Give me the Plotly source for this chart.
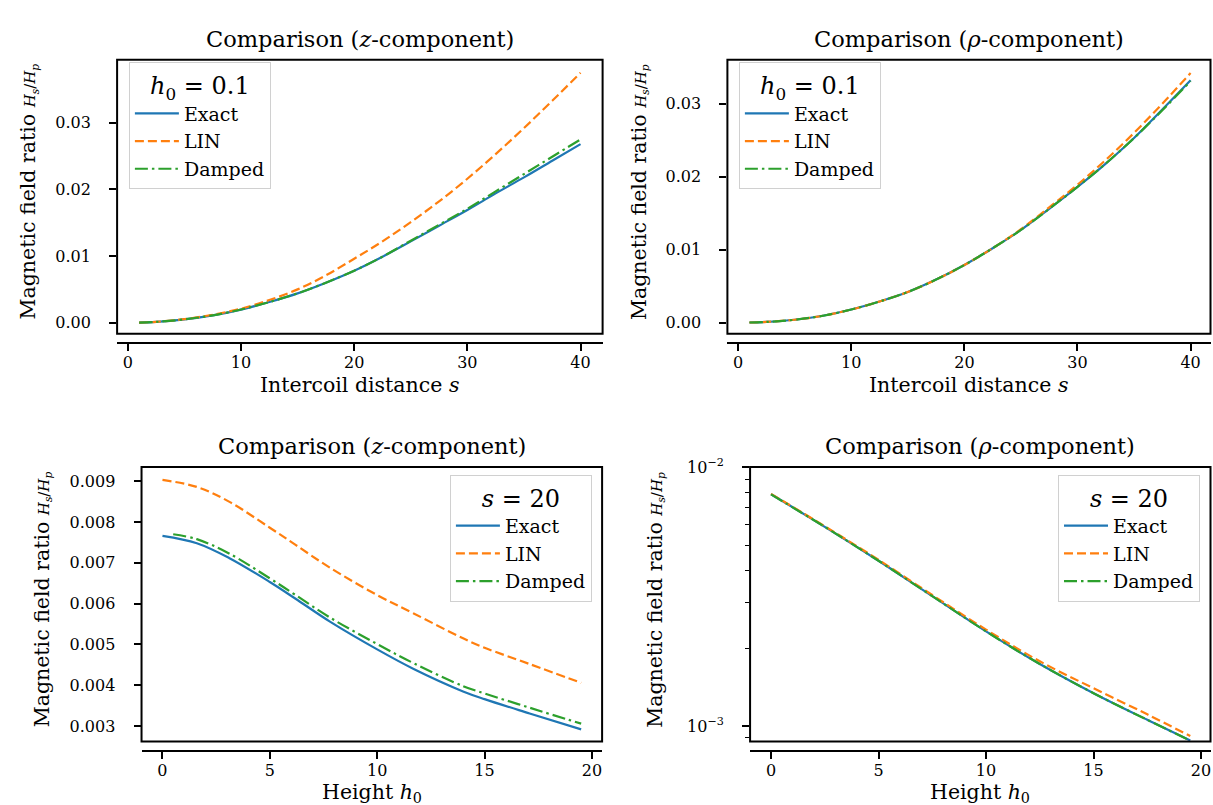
import plotly.graph_objects as go

# ---------------- data ----------------
# Top row: intercoil distance s, h0 = 0.1
s_vals = [1, 2.5, 5, 7.5, 10, 12.5, 15, 17.5, 20, 22.5, 25, 27.5, 30, 32.5, 35, 37.5, 40]

z_exact = [0.00002, 0.00012, 0.0005, 0.0011, 0.00197, 0.0031, 0.0044, 0.0060, 0.0078,
           0.0099, 0.0122, 0.01455, 0.0169, 0.0194, 0.0218, 0.0243, 0.0268]
z_lin = [0.00002, 0.00013, 0.00053, 0.0012, 0.0021, 0.0034, 0.0050, 0.0071, 0.0096,
         0.0122, 0.0151, 0.0182, 0.0216, 0.0253, 0.0292, 0.0333, 0.0375]
z_damped = [0.00002, 0.00012, 0.0005, 0.0011, 0.00198, 0.0031, 0.0044, 0.0060, 0.0078,
            0.0099, 0.0123, 0.0147, 0.0171, 0.0197, 0.0223, 0.0249, 0.0275]

rho_exact = [0.00002, 0.0001, 0.0004, 0.00095, 0.0018, 0.0029, 0.0042, 0.0059, 0.0079,
             0.0102, 0.0127, 0.0156, 0.0186, 0.0218, 0.0253, 0.0292, 0.0332]
rho_lin = [0.00002, 0.0001, 0.0004, 0.00095, 0.0018, 0.0029, 0.0042, 0.0059, 0.0079,
           0.0102, 0.0128, 0.0158, 0.0189, 0.0223, 0.0260, 0.0300, 0.0342]
rho_damped = [0.00002, 0.0001, 0.0004, 0.00095, 0.0018, 0.0029, 0.0042, 0.0059, 0.0079,
              0.0102, 0.0127, 0.0156, 0.0186, 0.0218, 0.0253, 0.0291, 0.0331]

# Bottom row: height h0, s = 20
h_vals = [0, 1.6, 3.1, 5, 6.2, 7.8, 10, 11.7, 14, 15, 17.1, 19.5]
h_vals_damped = [0.5, 1.6, 3.1, 5, 6.2, 7.8, 10, 11.7, 14, 15, 17.1, 19.5]

hz_exact = [0.00766, 0.00748, 0.00712, 0.00653, 0.00612, 0.00556, 0.00488, 0.00440,
            0.00385, 0.00366, 0.00331, 0.00292]
hz_lin = [0.00903, 0.00886, 0.00850, 0.00786, 0.00744, 0.00688, 0.00621, 0.00576,
          0.00515, 0.00492, 0.00452, 0.00406]
hz_damped = [0.00770, 0.00758, 0.00723, 0.00662, 0.00621, 0.00566, 0.00501, 0.00454,
             0.00398, 0.00380, 0.00345, 0.00306]

h_log = [0, 2.5, 5, 7.5, 10, 12.5, 15, 17.5, 19.5]
hr_exact = [0.00787, 0.00589, 0.004355, 0.003177, 0.002323, 0.001738, 0.00134, 0.001057, 0.000879]
hr_lin = [0.00790, 0.00592, 0.00439, 0.00321, 0.00236, 0.00178, 0.00140, 0.00111, 0.000915]
hr_damped = [0.00786, 0.00589, 0.004355, 0.003177, 0.002323, 0.001738, 0.00134, 0.001057, 0.000879]

names = ["Exact", "LIN", "Damped"]
colors = ["#1f77b4", "#ff7f0e", "#2ca02c"]
dashes = ["solid", "9px,4px", "13px,4px,2.5px,4px"]

FONT = "DejaVu Serif"
W, H = 1213, 805

fig = go.Figure()

panels = [
    dict(ys=[z_exact, z_lin, z_damped], xs=[s_vals, s_vals, s_vals], ax="", legend="legend"),
    dict(ys=[rho_exact, rho_lin, rho_damped], xs=[s_vals, s_vals, s_vals], ax="2", legend="legend2"),
    dict(ys=[hz_exact, hz_lin, hz_damped], xs=[h_vals, h_vals, h_vals_damped], ax="3", legend="legend3"),
    dict(ys=[hr_exact, hr_lin, hr_damped], xs=[h_log, h_log, h_log], ax="4", legend="legend4"),
]

for p in panels:
    for i in range(3):
        fig.add_trace(go.Scatter(
            x=p["xs"][i], y=p["ys"][i], mode="lines", name=names[i],
            line=dict(color=colors[i], width=2.2, dash=dashes[i], shape="spline", smoothing=1.0),
            xaxis="x" + p["ax"], yaxis="y" + p["ax"], legend=p["legend"],
        ))

def px_x(v):
    return v / W

def px_y(v):
    return 1 - v / H

top_dom = [px_y(327.3), px_y(49.5)]
bot_dom = [px_y(740.7), px_y(462.3)]

tickfont = dict(family=FONT, size=16, color="black")
common_x = dict(showgrid=False, zeroline=False, showline=True, linecolor="black", linewidth=1.5,
                ticks="outside", ticklen=7, tickwidth=1.5, tickcolor="black", tickfont=tickfont,
                anchor="free", ticklabelstandoff=-2)
common_y = dict(showgrid=False, zeroline=False, showline=False,
                ticks="outside", ticklen=7, tickwidth=1.5, tickcolor="black", tickfont=tickfont,
                ticklabelstandoff=15)

fig.update_layout(
    xaxis=dict(domain=[px_x(117.2), px_x(603.1)], range=[-0.95, 41.95], tickvals=[0, 10, 20, 30, 40],
               position=px_y(336.7), **common_x),
    yaxis=dict(domain=top_dom, range=[-0.00167, 0.03944], tickvals=[0, 0.01, 0.02, 0.03],
               tickformat=".2f", anchor="x", **common_y),
    xaxis2=dict(domain=[px_x(728.0), px_x(1211.5)], range=[-0.95, 41.76], tickvals=[0, 10, 20, 30, 40],
                position=px_y(336.7), **common_x),
    yaxis2=dict(domain=top_dom, range=[-0.00153, 0.03601], tickvals=[0, 0.01, 0.02, 0.03],
                tickformat=".2f", anchor="x2", **common_y),
    xaxis3=dict(domain=[px_x(141.65), px_x(602.6)], range=[-0.975, 20.475], tickvals=[0, 5, 10, 15, 20],
                position=px_y(750), **common_x),
    yaxis3=dict(domain=bot_dom, range=[0.002621, 0.009348],
                tickvals=[0.003, 0.004, 0.005, 0.006, 0.007, 0.008, 0.009],
                tickformat=".3f", anchor="x3", **common_y),
    xaxis4=dict(domain=[px_x(750.7), px_x(1211.5)], range=[-0.975, 20.44], tickvals=[0, 5, 10, 15, 20],
                position=px_y(750), **common_x),
    yaxis4=dict(domain=bot_dom, type="log", range=[-3.0599, -1.9985],
                tickvals=[0.001, 0.01], ticktext=["10<sup>−3</sup>", "10<sup>−2</sup>"],
                minor=dict(tickvals=[0.0009, 0.002, 0.003, 0.004, 0.005, 0.006, 0.007, 0.008, 0.009],
                           ticks="outside", ticklen=4, tickwidth=1, tickcolor="black", showgrid=False),
                anchor="x4", **common_y),
)

legend_common = dict(
    bgcolor="rgba(255,255,255,0.8)", bordercolor="#d0d0d0", borderwidth=1,
    font=dict(family=FONT, size=19, color="black"),
    xref="paper", yref="paper", yanchor="top",
    tracegroupgap=0, itemwidth=44,
)
ltitle_font = dict(family=FONT, size=24, color="black")
title_h = "<i>h</i><sub>0</sub> = 0.1"
fig.update_layout(
    legend=dict(x=px_x(129), y=px_y(52), xanchor="left",
                title=dict(text=title_h, side="top center", font=ltitle_font),
                **legend_common),
    legend2=dict(x=px_x(739.5), y=px_y(52), xanchor="left",
                 title=dict(text=title_h, side="top center", font=ltitle_font),
                 **legend_common),
    legend3=dict(x=px_x(592.4), y=px_y(470), xanchor="right",
                 title=dict(text="<i>s</i> = 20", side="top center", font=ltitle_font),
                 **legend_common),
    legend4=dict(x=px_x(1201), y=px_y(470), xanchor="right",
                 title=dict(text="<i>s</i> = 20", side="top center", font=ltitle_font),
                 **legend_common),
)

# frames around the plotting areas
for ax in ["", "2", "3", "4"]:
    fig.add_shape(type="rect", xref="x" + ax + " domain", yref="y" + ax + " domain",
                  x0=0, x1=1, y0=0, y1=1, line=dict(color="black", width=2), layer="above")

annots = []
titlefont = dict(family=FONT, size=22.5, color="black")
labfont = dict(family=FONT, size=20.5, color="black")
# subplot titles
for cx, ytop, txt in [
    ((117.2 + 603.1) / 2, 49.5, "Comparison (<i>z</i>-component)"),
    ((728.0 + 1211.5) / 2, 49.5, "Comparison (<i>ρ</i>-component)"),
    ((141.65 + 602.6) / 2, 462.3, "Comparison (<i>z</i>-component)"),
    ((750.7 + 1211.5) / 2, 462.3, "Comparison (<i>ρ</i>-component)"),
]:
    annots.append(dict(text=txt, x=px_x(cx), y=px_y(ytop), xref="paper", yref="paper",
                       xanchor="center", yanchor="bottom", yshift=6, showarrow=False, font=titlefont))
# x axis titles
for cx, cy, txt in [
    ((117.2 + 603.1) / 2, 379, "Intercoil distance <i>s</i>"),
    ((728.0 + 1211.5) / 2, 379, "Intercoil distance <i>s</i>"),
    ((141.65 + 602.6) / 2, 793, "Height <i>h</i><sub>0</sub>"),
    ((750.7 + 1211.5) / 2, 793, "Height <i>h</i><sub>0</sub>"),
]:
    annots.append(dict(text=txt, x=px_x(cx), y=px_y(cy), xref="paper", yref="paper",
                       xanchor="center", yanchor="middle", showarrow=False, font=labfont))
# y axis titles
ytxt = ("Magnetic field ratio <span style='font-size:15px'>"
        "<i>H<sub>s</sub></i>/<i>H<sub>p</sub></i></span>")
for cx, cy in [(29, 183), (640, 183), (42, 596.5), (656, 596.5)]:
    annots.append(dict(text=ytxt, x=px_x(cx), y=px_y(cy), xref="paper", yref="paper",
                       xanchor="center", yanchor="middle", textangle=-90, showarrow=False, font=labfont))

fig.update_layout(
    annotations=annots,
    width=W, height=H,
    margin=dict(l=0, r=0, t=0, b=0),
    paper_bgcolor="white", plot_bgcolor="white",
    font=dict(family=FONT, color="black"),
    showlegend=True,
)

fig.write_html(
    "out.html",
    config={"displayModeBar": False},
    post_script="document.body.style.margin='0px';document.documentElement.style.overflow='hidden';document.body.style.overflow='hidden';",
)
